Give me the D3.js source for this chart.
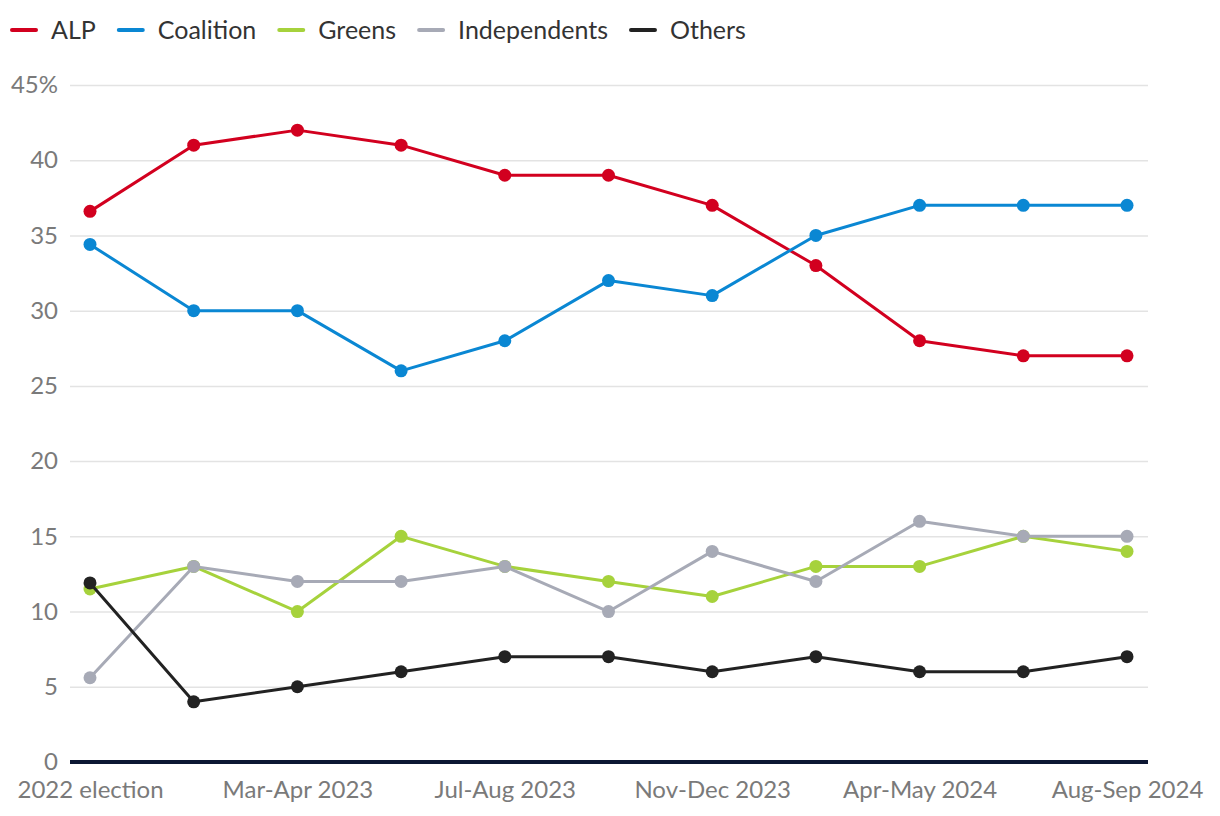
<!DOCTYPE html>
<html><head><meta charset="utf-8">
<script src="https://cdn.jsdelivr.net/npm/d3@7"></script>
<style>
html,body{margin:0;padding:0;background:#fff;}
svg text{font-family:Lato,"Noto Sans",sans-serif;}
</style></head>
<body><svg id="chart" width="1220" height="816"></svg>
<script>
const categories = ["2022 election","Jan-Feb 2023","Mar-Apr 2023","May-Jun 2023","Jul-Aug 2023","Sep-Oct 2023","Nov-Dec 2023","Feb-Mar 2024","Apr-May 2024","Jun-Jul 2024","Aug-Sep 2024"];
const shownLabels = ["2022 election","Mar-Apr 2023","Jul-Aug 2023","Nov-Dec 2023","Apr-May 2024","Aug-Sep 2024"];
const alp = [36.6,41,42,41,39,39,37,33,28,27,27];
const coalition = [34.4,30,30,26,28,32,31,35,37,37,37];
const greens = [11.5,13,10,15,13,12,11,13,13,15,14];
const independents = [5.6,13,12,12,13,10,14,12,16,15,15];
const others = [11.9,4,5,6,7,7,6,7,6,6,7];
const yTicks = [0,5,10,15,20,25,30,35,40,45];
const seriesNames = ["ALP","Coalition","Greens","Independents","Others"];
const seriesColors = ["#d2001f","#0a87d3","#a6d23c","#a7aab6","#222222"];
const seriesValues = [alp,coalition,greens,independents,others];

const svg = d3.select("#chart");
const x = d3.scalePoint().domain(categories).range([90,1127]);
const y = d3.scaleLinear().domain([0,45]).range([762,85]);

// gridlines
const gy = svg.append("g").attr("transform","translate(70,0)")
  .call(d3.axisLeft(y).tickValues(yTicks).tickSize(-1078).tickFormat(d=> d===45? "45%": d));
gy.select(".domain").remove();
gy.selectAll(".tick line").attr("stroke","#e3e3e3").attr("stroke-width",1.5);
gy.selectAll(".tick text").attr("x",-12).attr("fill","#7a7a7a").attr("font-size",24);

// x axis
const gx = svg.append("g").attr("transform","translate(0,762)")
  .call(d3.axisBottom(x).tickSize(0).tickFormat(d=> shownLabels.includes(d)? d: ""));
gx.select(".domain").remove();
gx.selectAll(".tick text").attr("dy",0).attr("y",36).attr("fill","#7a7a7a").attr("font-size",24);
svg.append("line").attr("x1",70).attr("x2",1148).attr("y1",y(0)).attr("y2",y(0))
  .attr("stroke","#0c1733").attr("stroke-width",4);

// series
const line = d3.line().x((d,i)=>x(categories[i])).y(d=>y(d));
seriesValues.forEach((vals,si)=>{
  const g = svg.append("g");
  g.append("path").datum(vals).attr("d",line).attr("fill","none")
    .attr("stroke",seriesColors[si]).attr("stroke-width",3).attr("stroke-linejoin","round");
  g.selectAll("circle").data(vals).join("circle")
    .attr("cx",(d,i)=>x(categories[i])).attr("cy",d=>y(d)).attr("r",6.5)
    .attr("fill",seriesColors[si]);
});

// legend
const leg = svg.append("g").attr("transform","translate(10,30)");
let lx = 0;
seriesNames.forEach((n,i)=>{
  leg.append("line").attr("x1",lx+2).attr("x2",lx+26).attr("y1",0).attr("y2",0)
    .attr("stroke",seriesColors[i]).attr("stroke-width",4).attr("stroke-linecap","round");
  const t = leg.append("text").attr("x",lx+41).attr("y",0).attr("dy","0.35em")
    .attr("font-size",25).attr("fill","#333").text(n);
  lx += 41 + t.node().getComputedTextLength() + 21;
});
</script></body></html>
